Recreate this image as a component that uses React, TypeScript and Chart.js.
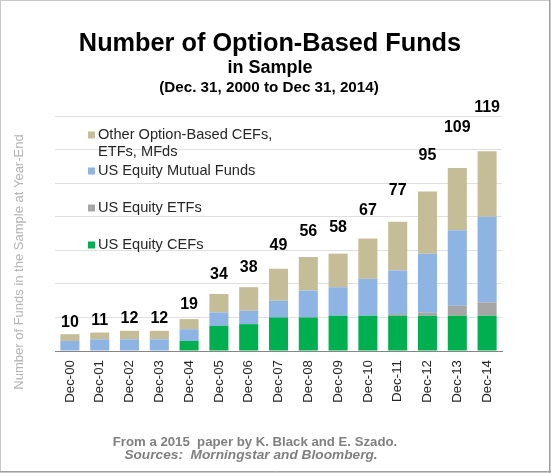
import React, { useEffect, useRef } from "react";
import { Chart, registerables } from "chart.js";

Chart.register(...registerables);

const categories = ["Dec-00", "Dec-01", "Dec-02", "Dec-03", "Dec-04", "Dec-05", "Dec-06", "Dec-07", "Dec-08", "Dec-09", "Dec-10", "Dec-11", "Dec-12", "Dec-13", "Dec-14"];
const usEquityCEFs = [0, 0, 0, 0, 6, 15, 16, 20, 20, 21, 21, 21, 21, 21, 21];
const usEquityETFs = [0, 0, 0, 0, 0, 0, 0, 0, 0, 0, 0, 1, 2, 6, 8];
const usEquityMutualFunds = [6, 7, 7, 7, 7, 8, 8, 10, 16, 17, 22, 26, 35, 45, 51];
const otherOptionBased = [4, 4, 5, 5, 6, 11, 14, 19, 20, 20, 24, 29, 37, 37, 39];
const totals = [10, 11, 12, 12, 19, 34, 38, 49, 56, 58, 67, 77, 95, 109, 119];

const FONT = "'Liberation Sans', Arial, sans-serif";

const overlayPlugin = {
  id: "overlay",
  beforeDraw(chart: any) {
    const ctx = chart.ctx;
    ctx.save();
    ctx.fillStyle = "#ffffff";
    ctx.fillRect(0, 0, chart.width, chart.height);
    ctx.restore();
  },
  afterDraw(chart: any) {
    const ctx = chart.ctx;
    const W = chart.width;
    const H = chart.height;
    ctx.save();
    // border
    ctx.strokeStyle = "#c8c8c8";
    ctx.lineWidth = 1;
    ctx.strokeRect(0.5, 0.5, W - 1, H - 1);
    ctx.strokeStyle = "#a0a0a0";
    ctx.beginPath();
    ctx.moveTo(W - 1.5, 0);
    ctx.lineTo(W - 1.5, H);
    ctx.moveTo(0, H - 1.5);
    ctx.lineTo(W, H - 1.5);
    ctx.stroke();

    // titles
    ctx.fillStyle = "#000000";
    ctx.textAlign = "center";
    ctx.textBaseline = "alphabetic";
    ctx.font = `bold 25.3px ${FONT}`;
    ctx.fillText("Number of Option-Based Funds", 270, 51);
    ctx.font = `bold 18px ${FONT}`;
    ctx.fillText("in Sample", 270, 73);
    ctx.font = `bold 15.2px ${FONT}`;
    ctx.fillText("(Dec. 31, 2000 to Dec 31, 2014)", 269, 92);

    // totals
    const xs = chart.scales.x;
    const ys = chart.scales.y;
    ctx.font = `bold 16px ${FONT}`;
    ctx.textBaseline = "middle";
    totals.forEach((t, i) => {
      const x = xs.getPixelForValue(i);
      const y = ys.getPixelForValue(t * 1.17 + 5.5);
      ctx.fillText(String(t), x, y);
    });

    // legend (reverse order of stack)
    const ds = chart.data.datasets;
    ctx.font = `14.6px ${FONT}`;
    ctx.textAlign = "left";
    const items = [
      { d: ds[3], lines: ["Other Option-Based CEFs,", "ETFs, MFds"], y: 135 },
      { d: ds[2], lines: [ds[2].label], y: 171 },
      { d: ds[1], lines: [ds[1].label], y: 208 },
      { d: ds[0], lines: [ds[0].label], y: 245 },
    ];
    items.forEach((it) => {
      ctx.fillStyle = it.d.backgroundColor;
      ctx.fillRect(88, it.y - 3.5, 7, 7);
      ctx.fillStyle = "#262626";
      it.lines.forEach((ln: string, k: number) => {
        ctx.fillText(ln, 98, it.y + k * 16.7);
      });
    });

    // y axis title
    ctx.save();
    ctx.translate(19, 262);
    ctx.rotate(-Math.PI / 2);
    ctx.textAlign = "center";
    ctx.fillStyle = "#b4b4b4";
    ctx.font = `13px ${FONT}`;
    ctx.fillText("Number of Funds in the Sample at Year-End", 0, 0);
    ctx.restore();

    // footer
    ctx.textAlign = "center";
    ctx.textBaseline = "alphabetic";
    ctx.fillStyle = "#808080";
    ctx.font = `bold 13.2px ${FONT}`;
    ctx.fillText("From a 2015  paper by K. Black and E. Szado.", 255, 446);
    ctx.font = `italic bold 13.7px ${FONT}`;
    ctx.fillText("Sources:  Morningstar and Bloomberg.", 251, 459);
    ctx.restore();
  },
};

export default function App() {
  const ref = useRef<HTMLCanvasElement | null>(null);
  useEffect(() => {
    if (!ref.current) return;
    const chart = new Chart(ref.current, {
      type: "bar",
      data: {
        labels: categories,
        datasets: [
          { label: "US Equity CEFs", data: usEquityCEFs, backgroundColor: "#00b050" },
          { label: "US Equity ETFs", data: usEquityETFs, backgroundColor: "#a6a6a6" },
          { label: "US Equity Mutual Funds", data: usEquityMutualFunds, backgroundColor: "#8eb4e3" },
          { label: "Other Option-Based CEFs, ETFs, MFds", data: otherOptionBased, backgroundColor: "#c4bd97" },
        ],
      },
      options: {
        responsive: false,
        animation: false,
        devicePixelRatio: 1,
        layout: { padding: { top: 116, right: 49, bottom: 0, left: 0 } },
        datasets: { bar: { categoryPercentage: 1, barPercentage: 0.64 } },
        plugins: { legend: { display: false }, title: { display: false }, tooltip: { enabled: false } },
        scales: {
          x: {
            stacked: true,
            grid: { display: false, drawTicks: false },
            border: { display: true, color: "#868686", width: 1 },
            ticks: {
              minRotation: 90,
              maxRotation: 90,
              padding: 9,
              color: "#262626",
              font: { family: FONT, size: 13.3 },
            },
            afterFit: (s: any) => {
              s.height = 122;
            },
          },
          y: {
            stacked: true,
            min: 0,
            max: 140,
            ticks: { display: false, stepSize: 20 },
            grid: { color: "#e0e0e0", drawTicks: false },
            border: { display: false },
            afterFit: (s: any) => {
              s.width = 55;
            },
          },
        },
      },
      plugins: [overlayPlugin],
    });
    return () => chart.destroy();
  }, []);
  return (
    <div style={{ position: "absolute", left: 0, top: 0, width: 551, height: 473 }}>
      <canvas ref={ref} width={551} height={473} style={{ display: "block" }} />
    </div>
  );
}
